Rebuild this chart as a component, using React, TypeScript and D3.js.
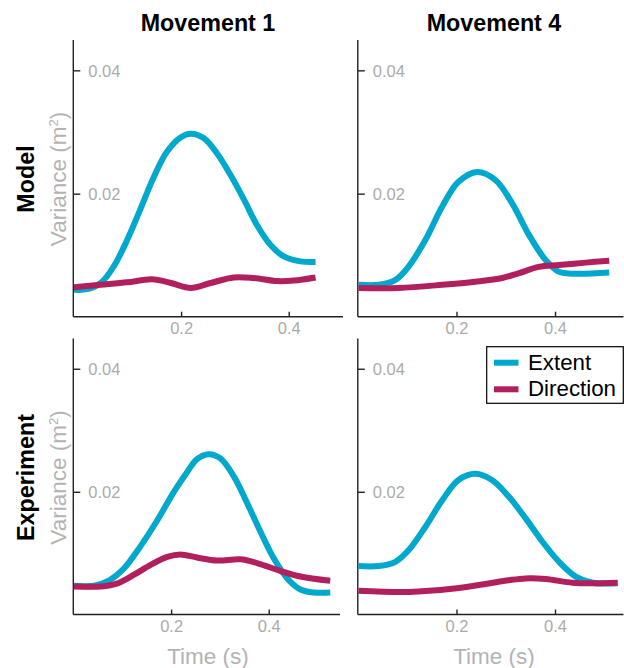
import React from "react";
import * as d3 from "d3";

// ---- Data ----
const colTitles = ["Movement 1", "Movement 4"];
const rowTitles = ["Model", "Experiment"];
const seriesNames = ["Extent", "Direction"];
const xTicks = [0.2, 0.4];
const yTicks = [0.02, 0.04];

// Model, Movement 1
const m1ModelExtT = [0, 0.025, 0.05, 0.074, 0.099, 0.124, 0.149, 0.173, 0.198, 0.217, 0.241, 0.266, 0.291, 0.316, 0.34, 0.365, 0.39, 0.421, 0.449];
const m1ModelExtV = [0.0045, 0.0046, 0.0056, 0.0083, 0.0126, 0.0177, 0.0229, 0.0269, 0.0292, 0.0298, 0.0291, 0.0266, 0.0231, 0.0191, 0.015, 0.0118, 0.0099, 0.0091, 0.009];
const m1ModelDirT = [0, 0.05, 0.099, 0.145, 0.18, 0.217, 0.254, 0.297, 0.334, 0.378, 0.409, 0.449];
const m1ModelDirV = [0.0049, 0.0053, 0.0057, 0.0062, 0.0056, 0.0048, 0.0056, 0.0065, 0.0064, 0.0059, 0.006, 0.0065];

// Model, Movement 4
const m4ModelExtT = [0, 0.041, 0.075, 0.102, 0.136, 0.17, 0.203, 0.241, 0.278, 0.312, 0.346, 0.38, 0.407, 0.441, 0.509];
const m4ModelExtV = [0.0053, 0.0053, 0.0061, 0.0083, 0.0126, 0.018, 0.022, 0.0236, 0.0223, 0.0185, 0.0134, 0.0093, 0.0074, 0.0071, 0.0073];
const m4ModelDirT = [0, 0.081, 0.17, 0.237, 0.292, 0.326, 0.366, 0.407, 0.461, 0.509];
const m4ModelDirV = [0.0048, 0.0048, 0.0053, 0.0058, 0.0064, 0.0072, 0.0082, 0.0085, 0.0089, 0.0092];

// Experiment, Movement 1
const m1ExpExtT = [0, 0.041, 0.068, 0.102, 0.136, 0.171, 0.205, 0.232, 0.252, 0.276, 0.3, 0.328, 0.355, 0.382, 0.409, 0.437, 0.464, 0.491, 0.525];
const m1ExpExtV = [0.0048, 0.0048, 0.0055, 0.0076, 0.0112, 0.0155, 0.0201, 0.0233, 0.0254, 0.0262, 0.0255, 0.0225, 0.0182, 0.0136, 0.0093, 0.006, 0.0042, 0.0037, 0.0037];
const m1ExpDirT = [0, 0.055, 0.089, 0.123, 0.157, 0.191, 0.218, 0.252, 0.293, 0.341, 0.375, 0.423, 0.464, 0.525];
const m1ExpDirV = [0.0047, 0.0047, 0.0052, 0.0066, 0.0082, 0.0095, 0.0099, 0.0094, 0.0089, 0.0091, 0.0085, 0.0072, 0.0063, 0.0056];

// Experiment, Movement 4
const m4ExpExtT = [0, 0.041, 0.075, 0.102, 0.136, 0.17, 0.203, 0.237, 0.271, 0.305, 0.339, 0.373, 0.407, 0.441, 0.475, 0.526];
const m4ExpExtV = [0.008, 0.008, 0.0087, 0.0106, 0.0144, 0.0187, 0.022, 0.023, 0.022, 0.0193, 0.0158, 0.012, 0.0087, 0.0063, 0.0053, 0.0052];
const m4ExpDirT = [0, 0.102, 0.19, 0.258, 0.305, 0.339, 0.38, 0.434, 0.475, 0.526];
const m4ExpDirV = [0.004, 0.0038, 0.0043, 0.0051, 0.0057, 0.006, 0.0059, 0.0053, 0.0052, 0.0053];

const colors = ["#00a8cd", "#b21f5d"];
const FONT = "'Liberation Sans', Arial, Helvetica, sans-serif";

type Panel = {
  row: number;
  col: number;
  xMax: number;
  ext: [number[], number[]];
  dir: [number[], number[]];
};

const panels: Panel[] = [
  { row: 0, col: 0, xMax: 0.5, ext: [m1ModelExtT, m1ModelExtV], dir: [m1ModelDirT, m1ModelDirV] },
  { row: 0, col: 1, xMax: 0.538, ext: [m4ModelExtT, m4ModelExtV], dir: [m4ModelDirT, m4ModelDirV] },
  { row: 1, col: 0, xMax: 0.545, ext: [m1ExpExtT, m1ExpExtV], dir: [m1ExpDirT, m1ExpDirV] },
  { row: 1, col: 1, xMax: 0.538, ext: [m4ExpExtT, m4ExpExtV], dir: [m4ExpDirT, m4ExpDirV] },
];

const colX = [
  [74, 343],
  [358.5, 623.5],
];
const colX1 = [
  [74, 340],
  [358.5, 623.5],
];
const rowY = [
  [317.5, 40],
  [615.3, 338.5],
];

function PanelView({ p }: { p: Panel }) {
  const xr = p.row === 0 ? colX[p.col] : colX1[p.col];
  const x = d3.scaleLinear().domain([0, p.xMax]).range(xr);
  const y = d3.scaleLinear().domain([0, 0.045]).range(rowY[p.row]);
  const line = d3
    .line<[number, number]>()
    .x((d) => x(d[0]))
    .y((d) => y(d[1]))
    .curve(d3.curveCatmullRom.alpha(0.5));
  const toPts = (s: [number[], number[]]) => s[0].map((t, i) => [t, s[1][i]] as [number, number]);
  const x0 = xr[0] - 0.7;
  const yb = y(0) - 0.8;
  const axisColor = "#222";
  return (
    <g>
      <line x1={x0} x2={x0} y1={y(0.045)} y2={yb} stroke={axisColor} strokeWidth={1.4} />
      <line x1={x0} x2={xr[1]} y1={yb} y2={yb} stroke={axisColor} strokeWidth={1.4} />
      {yTicks.map((t) => (
        <g key={"y" + t}>
          <line x1={x0} x2={x0 + 7} y1={y(t)} y2={y(t)} stroke={axisColor} strokeWidth={1.4} />
          <text x={x0 + 15} y={y(t) + 6} fontSize={16.5} fill="#ababab" fontFamily={FONT}>
            {t.toFixed(2)}
          </text>
        </g>
      ))}
      {xTicks.map((t) => (
        <g key={"x" + t}>
          <line x1={x(t)} x2={x(t)} y1={yb} y2={yb - 5} stroke={axisColor} strokeWidth={1.4} />
          <text x={x(t)} y={yb + 17} fontSize={16.5} fill="#ababab" textAnchor="middle" fontFamily={FONT}>
            {t.toFixed(1)}
          </text>
        </g>
      ))}
      <path d={line(toPts(p.ext)) || ""} fill="none" stroke={colors[0]} strokeWidth={6} />
      <path d={line(toPts(p.dir)) || ""} fill="none" stroke={colors[1]} strokeWidth={6} />
    </g>
  );
}

export default function App() {
  const rowCenters = [179, 477.5];
  const colCenters = [208, 494];
  return (
    <svg
      width={624}
      height={668}
      style={{ position: "absolute", left: 0, top: 0, background: "#fff" }}
      fontFamily={FONT}
    >
      <rect width={624} height={668} fill="#fff" />
      {colTitles.map((t, i) => (
        <text key={t} x={colCenters[i]} y={31} textAnchor="middle" fontSize={23.3} fontWeight="bold" fill="#000">
          {t}
        </text>
      ))}
      {rowTitles.map((t, i) => (
        <g key={t}>
          <text
            transform={`translate(33.5,${rowCenters[i]}) rotate(-90)`}
            textAnchor="middle"
            fontSize={23.3}
            fontWeight="bold"
            fill="#000"
          >
            {t}
          </text>
          <text
            transform={`translate(65.5,${rowCenters[i]}) rotate(-90)`}
            textAnchor="middle"
            fontSize={22.5}
            fill="#b3b3b3"
          >
            Variance (m<tspan fontSize={13} dy={-8}>2</tspan>
            <tspan dy={8}>)</tspan>
          </text>
        </g>
      ))}
      {panels.map((p, i) => (
        <PanelView key={i} p={p} />
      ))}
      {colCenters.map((c, i) => (
        <text key={"tl" + i} x={c} y={664} textAnchor="middle" fontSize={22.5} fill="#b3b3b3">
          Time (s)
        </text>
      ))}
      <g>
        <rect x={486.7} y={346.7} width={136.6} height={56.6} fill="#fff" stroke="#000" strokeWidth={1.2} />
        {seriesNames.map((s, i) => (
          <g key={s}>
            <line x1={494} x2={518.5} y1={362.7 + i * 26.6} y2={362.7 + i * 26.6} stroke={colors[i]} strokeWidth={6} />
            <text x={528} y={369.8 + i * 26.4} fontSize={22.3} fill="#000">
              {s}
            </text>
          </g>
        ))}
      </g>
    </svg>
  );
}
